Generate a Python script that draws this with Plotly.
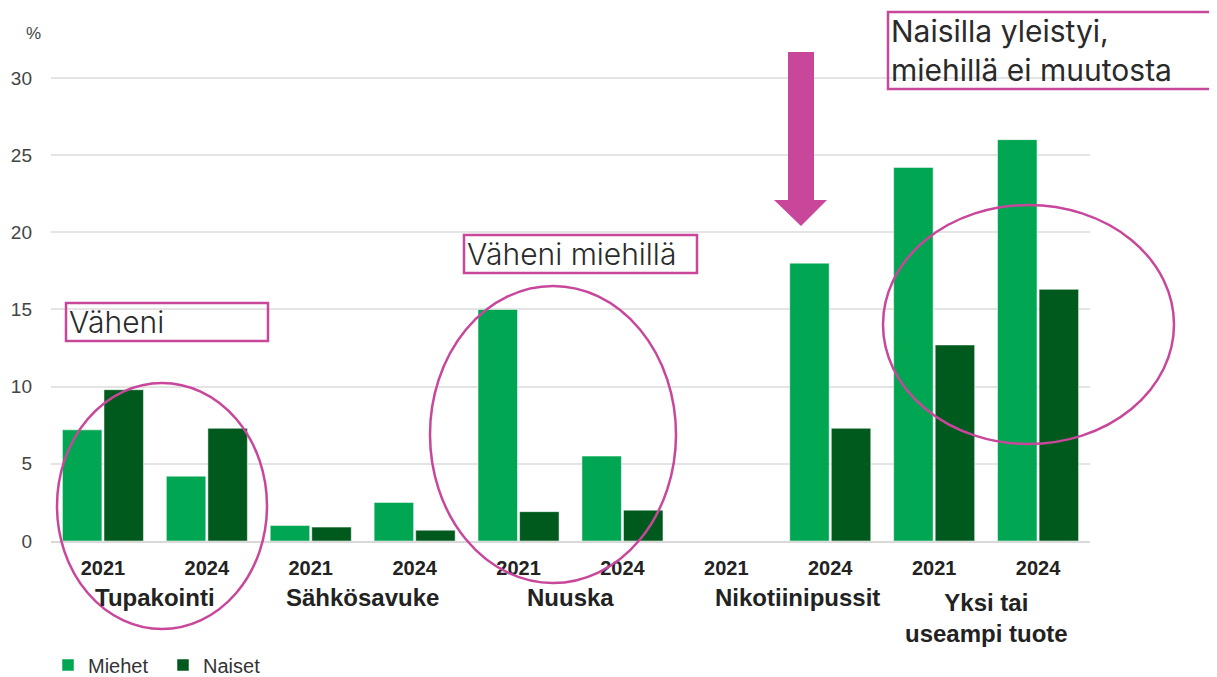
import plotly.graph_objects as go

# ---- data ----
categories = ["Tupakointi", "Sähkösavuke", "Nuuska", "Nikotiinipussit", "Yksi tai<br>useampi tuote"]
years = ["2021", "2024"] * 5
miehet = [7.2, 4.2, 1.0, 2.5, 15.0, 5.5, None, 18.0, 24.2, 26.0]
naiset = [9.8, 7.3, 0.9, 0.7, 1.9, 2.0, None, 7.3, 12.7, 16.3]
y_ticks = [0, 5, 10, 15, 20, 25, 30]

C_M = "#00A651"
C_N = "#005A1E"
MAG = "#C8479B"
FONT = "Arial, Liberation Sans, sans-serif"

x_idx = list(range(len(years)))

# page offset (default body margin) and figure size
OFF = 8
W, H = 1217 - OFF, 677 - OFF
# plot area in reference-screen pixels
PL, PR, PT, PB = 51, 1090, 47, 541


def px(x):
    return (x - PL) / (PR - PL)


def py(y):
    return (PB - y) / (PB - PT)


fig = go.Figure()
fig.add_trace(go.Bar(x=x_idx, y=miehet, name="Miehet", marker=dict(color=C_M, line=dict(color="rgba(255,255,255,0.5)", width=1))))
fig.add_trace(go.Bar(x=x_idx, y=naiset, name="Naiset", marker=dict(color=C_N, line=dict(color="rgba(255,255,255,0.5)", width=1))))

shapes = []
annotations = []

# category labels
for i, cat in enumerate(categories):
    xs = 19 if cat == "Nikotiinipussit" else 0
    ys = -46 if "<br>" in cat else -41
    annotations.append(dict(x=2 * i + 0.5, y=0, xref="x", yref="y", text="<b>" + cat + "</b>",
                            showarrow=False, xanchor="center", yanchor="top", yshift=ys, xshift=xs,
                            font=dict(family=FONT, size=24, color="#222222"), align="center"))

# % label
annotations.append(dict(x=px(33), y=py(34), xref="paper", yref="paper", text="%", showarrow=False,
                        xanchor="center", yanchor="middle", font=dict(family=FONT, size=17, color="#444444")))

# ellipses
for (x0, x1, y0, y1) in [(57, 267, 383, 629), (430, 676, 286, 583), (883, 1174, 205, 444)]:
    shapes.append(dict(type="circle", xref="paper", yref="paper", x0=px(x0), x1=px(x1), y0=py(y1), y1=py(y0),
                       line=dict(color=MAG, width=2.5)))

# text boxes
boxes = [
    (66, 268, 303, 341, "Väheni", 67, 322, 30, 300),
    (464, 697, 235, 273, "Väheni miehillä", 465, 254, 30, 300),
    (888, 1214, 12, 89, "Naisilla yleistyi,<br>miehillä ei muutosta", 889, 51, 30, 400),
]
for (x0, x1, y0, y1, txt, tx, ty, fs, fw) in boxes:
    shapes.append(dict(type="rect", xref="paper", yref="paper", x0=px(x0), x1=px(x1), y0=py(y1), y1=py(y0),
                       line=dict(color=MAG, width=2.5), fillcolor="rgba(0,0,0,0)"))
    annotations.append(dict(x=px(tx), y=py(ty), xref="paper", yref="paper", text=txt, showarrow=False,
                            xanchor="left", yanchor="middle", align="left",
                            font=dict(family="Inter, Lato, sans-serif", size=fs, color="#2a2a2a", weight=fw)))

# arrow
ax0, ax1, ay0, ay1 = 788, 814, 52, 200
hx0, hx1, hy = 774, 827, 226
path = (f"M {px(ax0)},{py(ay0)} L {px(ax1)},{py(ay0)} L {px(ax1)},{py(ay1)} L {px(hx1)},{py(ay1)} "
        f"L {px((ax0 + ax1) / 2)},{py(hy)} L {px(hx0)},{py(ay1)} L {px(ax0)},{py(ay1)} Z")
shapes.append(dict(type="path", xref="paper", yref="paper", path=path, fillcolor=MAG, line=dict(width=0)))

fig.update_layout(
    width=W, height=H,
    margin=dict(l=PL - OFF, r=1217 - PR, t=PT - OFF, b=677 - PB, autoexpand=False),
    plot_bgcolor="white", paper_bgcolor="white",
    barmode="group", bargap=0.2, bargroupgap=0.05,
    font=dict(family=FONT, color="#333333"),
    showlegend=True,
    legend=dict(orientation="h", xref="container", yref="container", x=(48 - OFF) / W, y=1 - (665 - OFF) / H,
                xanchor="left", yanchor="middle",
                font=dict(family=FONT, size=20, color="#333333"), itemwidth=30,
                entrywidth=70, bgcolor="rgba(0,0,0,0)"),
    xaxis=dict(range=[-0.5, 9.5], tickmode="array", tickvals=x_idx, automargin=False,
               ticktext=["<b>" + y + "</b>" for y in years], showgrid=False, zeroline=False,
               showline=True, linecolor="#D9D9D9", linewidth=2, ticks="",
               tickfont=dict(family=FONT, size=20, color="#222222"), ticklabelstandoff=8),
    yaxis=dict(range=[0, 32], tickmode="array", tickvals=y_ticks, showgrid=True, gridcolor="#E4E4E4",
               gridwidth=1.5, zeroline=False, showline=False, ticks="", automargin=False,
               tickfont=dict(family=FONT, size=19, color="#444444"), ticklabelstandoff=18),
    shapes=shapes,
    annotations=annotations,
)

fig.write_html("out.html")
